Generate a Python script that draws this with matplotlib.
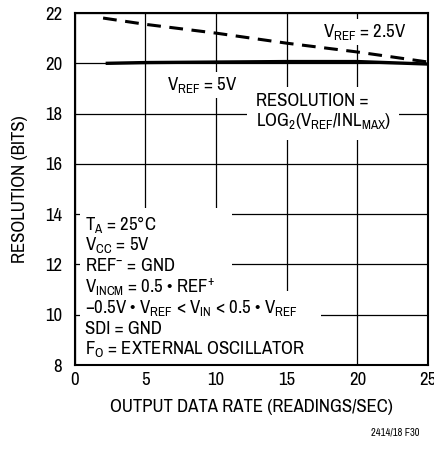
import matplotlib
matplotlib.use("Agg")
import matplotlib.pyplot as plt
from matplotlib.patches import Rectangle

FONT = 'Archivo Narrow'
plt.rcParams['font.family'] = [FONT, 'DejaVu Sans']
plt.rcParams['mathtext.fontset'] = 'custom'
plt.rcParams['mathtext.rm'] = FONT
plt.rcParams['mathtext.it'] = FONT
plt.rcParams['mathtext.bf'] = FONT

# data
rate_25 = [2.0, 5, 10, 15, 20, 25]
res_25 = [21.8, 21.55, 21.2, 20.8, 20.45, 20.05]
rate_5 = [2.3, 5, 10, 15, 20, 25]
res_5 = [20.0, 20.03, 20.05, 20.07, 20.07, 19.97]

x_ticks = [0, 5, 10, 15, 20, 25]
y_ticks = [8, 10, 12, 14, 16, 18, 20, 22]

cond_lines = [
    r'$\mathrm{T_A}$ = 25°C',
    r'$\mathrm{V_{CC}}$ = 5V',
    r'$\mathrm{REF^{-}}$ = GND',
    r'$\mathrm{V_{INCM}}$ = 0.5 • $\mathrm{REF^{+}}$',
    r'−0.5V • $\mathrm{V_{REF}}$ < $\mathrm{V_{IN}}$ < 0.5 • $\mathrm{V_{REF}}$',
    'SDI = GND',
    r'$\mathrm{F_O}$ = EXTERNAL OSCILLATOR',
]

fs = 13.5

fig = plt.figure(figsize=(4.35, 4.49), dpi=100)
ax = fig.add_axes([0.172, 0.187, 0.812, 0.784])

ax.set_xlim(0, 25)
ax.set_ylim(8, 22)
ax.set_xticks(x_ticks)
ax.set_yticks(y_ticks)
ax.tick_params(length=0, labelsize=fs)
ax.tick_params(axis='y', pad=9)
ax.tick_params(axis='x', pad=5)
ax.grid(True, color='black', linewidth=0.9)
ax.set_axisbelow(True)
for s in ax.spines.values():
    s.set_linewidth(1.5)

ax.plot(rate_25, res_25, color='black', linewidth=2.2, linestyle=(0, (4.5, 2.8)),
        zorder=3)
ax.plot(rate_5, res_5, color='black', linewidth=2.4, zorder=3)

box = dict(facecolor='white', edgecolor='none', pad=2)
ax.text(17.6, 21.25, r'$\mathrm{V_{REF}}$ = 2.5V', fontsize=fs, va='center',
        bbox=box, zorder=2)
ax.text(6.5, 19.13, r'$\mathrm{V_{REF}}$ = 5V', fontsize=fs, va='center',
        bbox=box, zorder=2)
ax.text(12.8, 18.05, 'RESOLUTION =\n' + r'$\mathrm{LOG_2(V_{REF}/INL_{MAX})}$',
        fontsize=fs, va='center', linespacing=1.15,
        bbox=dict(facecolor='white', edgecolor='none', pad=6), zorder=2)

# white area behind the conditions block
ax.add_patch(Rectangle((0.35, 8), 10.75, 6.23, facecolor='white',
                       edgecolor='none', zorder=1))
ax.add_patch(Rectangle((0.35, 8), 17.05, 2.96, facecolor='white',
                       edgecolor='none', zorder=1))

y0 = 13.6
for i, line in enumerate(cond_lines):
    ax.text(0.75, y0 - i * 0.83, line, fontsize=fs, va='center', zorder=2)

ax.set_xlabel('OUTPUT DATA RATE (READINGS/SEC)', fontsize=fs, labelpad=8)
ax.set_ylabel('RESOLUTION (BITS)', fontsize=fs, labelpad=12)

fig.text(0.965, 0.03, '2414/18 F30', fontsize=7.5, ha='right')

fig.savefig('out.png', dpi=100)
